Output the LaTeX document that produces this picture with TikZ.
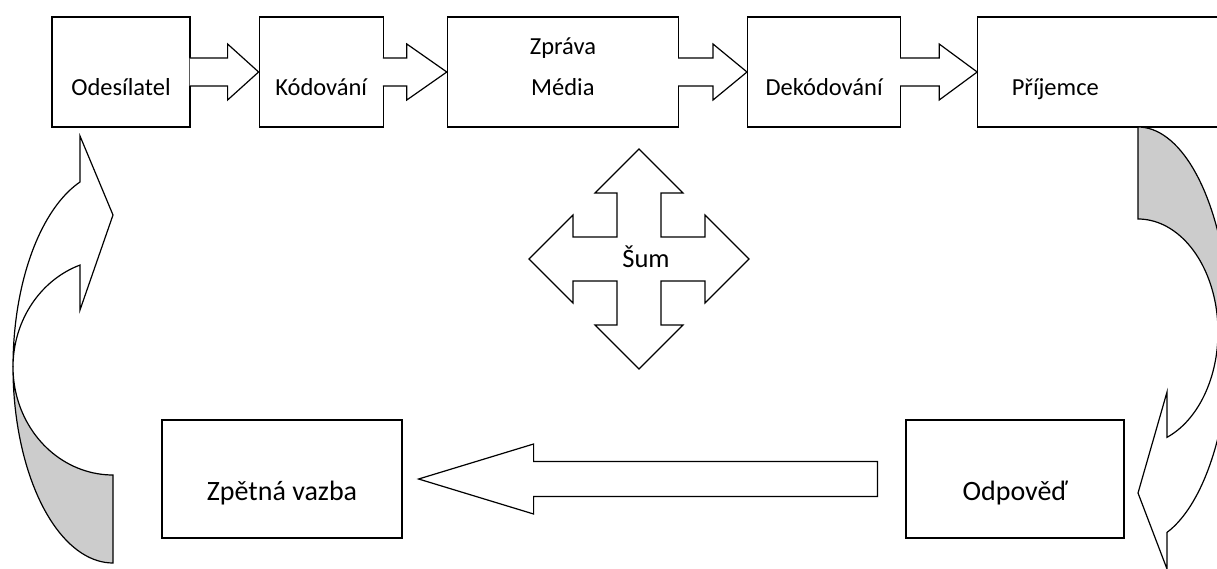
\documentclass[tikz,border=0pt]{standalone}
\usepackage{fontspec}
\setmainfont{Carlito}
\usetikzlibrary{positioning,calc}

\begin{document}
\begin{tikzpicture}[x=1pt, y=-1pt,
    box/.style = {draw, line width=1.2pt, minimum height=110pt, inner sep=0pt, font=\fontsize{24.5}{29}\selectfont},
    lowtext/.style = {text height=#1, text depth=2pt},
    lowtext/.default = 50pt,
    bigtext/.style = {font=\fontsize{28}{33}\selectfont},
    shapeline/.style = {draw, line width=1.2pt, line join=miter, fill=white},
    backside/.style = {shapeline, fill=gray!40} ]
    \useasboundingbox (0,0) rectangle (1217,569);
    \clip (0,0) rectangle (1217,569);
    % top row
    \node [box, lowtext, minimum width=138pt] (odes) at (121,72) {Odesílatel};
    \node [box, lowtext, minimum width=124pt, right=68pt of odes] (kod) {Kódování};
    \node [box, lowtext, minimum width=231pt, align=center, right=63pt of kod] (zpr) {Zpráva\\[12pt]Média};
    \node [box, lowtext, minimum width=153pt, right=68pt of zpr] (dek) {Dekódování};
    \node [box, lowtext, text width=200pt, inner xsep=34pt, align=left, right=76pt of dek] (prij) {Příjemce};
    \foreach \a/\b/\h in {odes/kod/31, kod/zpr/40, zpr/dek/34, dek/prij/38}
      \draw [shapeline] let \p1 = (\a.east), \p2 = (\b.west) in
        (\x1-1pt,\y1+14pt) -- (\x2-\h*1pt,\y1+14pt) -- (\x2-\h*1pt,\y1+28pt) -- (\x2,\y1)
        -- (\x2-\h*1pt,\y1-28pt) -- (\x2-\h*1pt,\y1-14pt) -- (\x1-1pt,\y1-14pt);
    % bottom row
    \node [box, bigtext, lowtext=44pt, minimum width=240pt, minimum height=118pt] (zpet) at (282,479) {Zpětná vazba};
    \node [box, bigtext, lowtext=44pt, minimum width=218pt, minimum height=118pt] (odp) at (1015,479) {Odpověď};
    \draw [shapeline] let \p1 = ($(odp.west)+(-28,0)$), \p2 = ($(zpet.east)+(16,0)$) in
      (\x1,\y1+17.5pt) -- (\x2+115pt,\y1+17.5pt) -- (\x2+115pt,\y1+35pt) -- (\x2,\y2)
      -- (\x2+115pt,\y1-35pt) -- (\x2+115pt,\y1-17.5pt) -- (\x1,\y1-17.5pt) -- cycle;
    % noise
    \coordinate (noise) at (639,259);
    \draw [shapeline, shift={(noise)}] (0,-110) -- (44,-66) -- (22,-66) -- (22,-22) -- (66,-22) -- (66,-44)
      -- (110,0) -- (66,44) -- (66,22) -- (22,22) -- (22,66) -- (44,66) -- (0,110) -- (-44,66)
      -- (-22,66) -- (-22,22) -- (-66,22) -- (-66,44) -- (-110,0) -- (-66,-44) -- (-66,-22)
      -- (-22,-22) -- (-22,-66) -- (-44,-66) -- cycle;
    \node [font=\fontsize{26.5}{31}\selectfont, anchor=base, inner sep=0pt] (sum) at (646,267) {Šum};
    % curved arrow back to the sender
    \coordinate (loopL) at (113,367);
    \begin{scope}[shift={(loopL)}]
      \draw [shapeline] plot [variable=\t, domain=180:250.7, samples=40] ({100*cos(\t)},{196*sin(\t)})
        -- (-33,-231) -- (0,-152) -- (-33,-57)
        -- plot [variable=\t, domain=250.7:180, samples=40] ({100*cos(\t)},{108*sin(\t)}) -- cycle;
      \draw [backside] plot [variable=\t, domain=180:90, samples=40] ({100*cos(\t)},{196*sin(\t)})
        -- plot [variable=\t, domain=90:180, samples=40] ({100*cos(\t)},{108*sin(\t)}) -- cycle;
    \end{scope}
    % curved arrow from the receiver
    \coordinate (loopR) at (1138,335);
    \begin{scope}[shift={(loopR)}]
      \draw [backside] plot [variable=\t, domain=-90:0, samples=40] ({92*cos(\t)},{208*sin(\t)})
        -- plot [variable=\t, domain=0:-90, samples=40] ({80*cos(\t)},{-3+113*sin(\t)}) -- cycle;
      \draw [shapeline] plot [variable=\t, domain=0:68.75, samples=40] ({80*cos(\t)},{-3+113*sin(\t)})
        -- (29,57) -- (0,158) -- (29,234)
        -- plot [variable=\t, domain=71.6:0, samples=40] ({92*cos(\t)},{208*sin(\t)}) -- cycle;
    \end{scope}
\end{tikzpicture}
\end{document}
